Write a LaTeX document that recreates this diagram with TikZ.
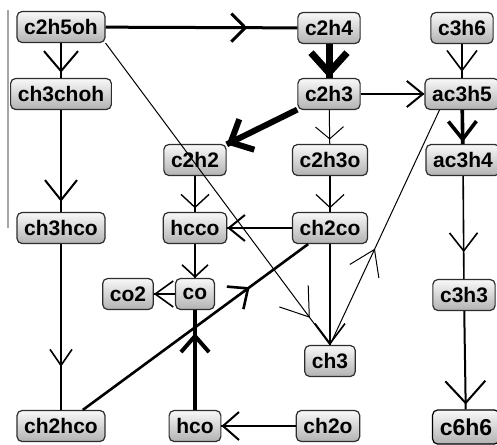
\documentclass[tikz,border=0pt]{standalone}
\usepackage{fontspec}
\setmainfont{Liberation Sans}
\usetikzlibrary{arrows.meta, decorations.markings}

\begin{document}
\begin{tikzpicture}[x=0.5pt, y=-0.5pt,
    species/.style={draw=gray!35!black, line width=0.6pt, rounded corners=2.5pt,
        top color=gray!5, bottom color=gray!60, text=black,
        font=\fontsize{10.5}{12}\selectfont\bfseries,
        minimum height=15.5pt, inner xsep=3.6pt, inner ysep=0pt},
    flow/.style n args={3}{postaction={decorate},
        decoration={markings, mark=at position #1 with {\arrow{Straight Barb[length=#2, width=#3]}}}}]

    \useasboundingbox (0,0) rectangle (497,444);

    % ================= left margin bar =================
    \draw[gray!70, line width=0.6pt] (8,10) -- (8,228);

    % ================= species =================
    \node[species] (c2h5oh)  at (61,27)  {c2h5oh};
    \node[species] (c2h4)    at (329,28) {c2h4};
    \node[species] (c3h6)    at (462,28) {c3h6};

    \node[species] (ch3choh) at (61,94)  {ch3choh};
    \node[species] (c2h3)    at (329,94) {c2h3};
    \node[species] (ac3h5)   at (462,94) {ac3h5};

    \node[species] (c2h2)    at (195,160) {c2h2};
    \node[species] (c2h3o)   at (330,160) {c2h3o};
    \node[species] (ac3h4)   at (463,160) {ac3h4};

    \node[species] (ch3hco)  at (61,228)  {ch3hco};
    \node[species] (hcco)    at (195,228) {hcco};
    \node[species] (ch2co)   at (330,228) {ch2co};

    \node[species] (co2)     at (128,294) {co2};
    \node[species] (co)      at (195,294) {co};
    \node[species] (c3h3)    at (464,295) {c3h3};

    \node[species] (ch3)     at (330,361) {ch3};

    \node[species] (ch2hco)  at (61,426)  {ch2hco};
    \node[species] (hco)     at (195,426) {hco};
    \node[species] (ch2o)    at (328,426) {ch2o};
    \node[species, font=\fontsize{11.5}{13}\selectfont\bfseries, minimum height=17pt,
          draw=black] (c6h6) at (466,427) {c6h6};

    % ================= fluxes =================
    % ethanol branch
    \draw[line width=1.5pt, flow={0.74}{7pt}{14pt}] (c2h5oh) -- (c2h4);
    \draw[line width=1pt, flow={0.85}{10pt}{17pt}] (c2h5oh) -- (ch3choh);
    \draw[line width=1pt, flow={0.9}{10pt}{16pt}] (ch3choh) -- (ch3hco);
    \draw[line width=0.8pt, flow={0.74}{8pt}{11pt}] (ch3hco) -- (ch2hco);
    \draw[line width=0.5pt, flow={0.91}{13pt}{18pt}] (c2h5oh.south east) -- (ch3.north);

    % c2 chain
    \draw[line width=3.5pt, flow={1}{10pt}{18pt}] (c2h4) -- (c2h3);
    \draw[line width=3pt, flow={1}{9pt}{17pt}] (c2h3) -- (c2h2);
    \draw[line width=1pt, flow={1}{8pt}{13pt}] (c2h3) -- (ac3h5);
    \draw[line width=0.5pt, flow={0.87}{6pt}{14pt}] (c2h3) -- (c2h3o);
    \draw[line width=0.7pt, flow={0.9}{6.5pt}{14pt}] (c2h2) -- (hcco);
    \draw[line width=0.6pt, flow={0.9}{6.5pt}{14pt}] (c2h3o) -- (ch2co);

    % c3 chain
    \draw[line width=0.8pt, flow={0.82}{10pt}{15pt}] (c3h6) -- (ac3h5);
    \draw[line width=1.8pt, flow={0.95}{9pt}{14pt}] (ac3h5) -- (ac3h4);
    \draw[line width=0.8pt, flow={0.74}{9pt}{14pt}] (ac3h4) -- (c3h3);
    \draw[line width=1pt, flow={0.95}{11pt}{20pt}] (c3h3) -- (c6h6);

    % c1 species
    \draw[line width=1pt, flow={1}{8pt}{13pt}] (ch2co) -- (hcco);
    \draw[line width=0.8pt, flow={1}{10pt}{15pt}] (ch2co.south) -- (ch3.north);
    \draw[line width=0.5pt, flow={0.41}{12pt}{16pt}] (ch3.north) -- ([xshift=7.5pt]ac3h5.south west);
    \draw[line width=0.8pt, flow={1}{6pt}{13pt}] (hcco) -- (co);
    \draw[line width=0.8pt, flow={1}{9pt}{13pt}] (co) -- (co2);
    \draw[line width=1.3pt, flow={0.74}{8pt}{14pt}] (ch2hco) -- (ch2co);
    \draw[line width=2pt, flow={0.77}{8pt}{14pt}] (hco) -- (co);
    \draw[line width=1pt, flow={1}{8pt}{14pt}] (ch2o) -- (hco);

\end{tikzpicture}
\end{document}
